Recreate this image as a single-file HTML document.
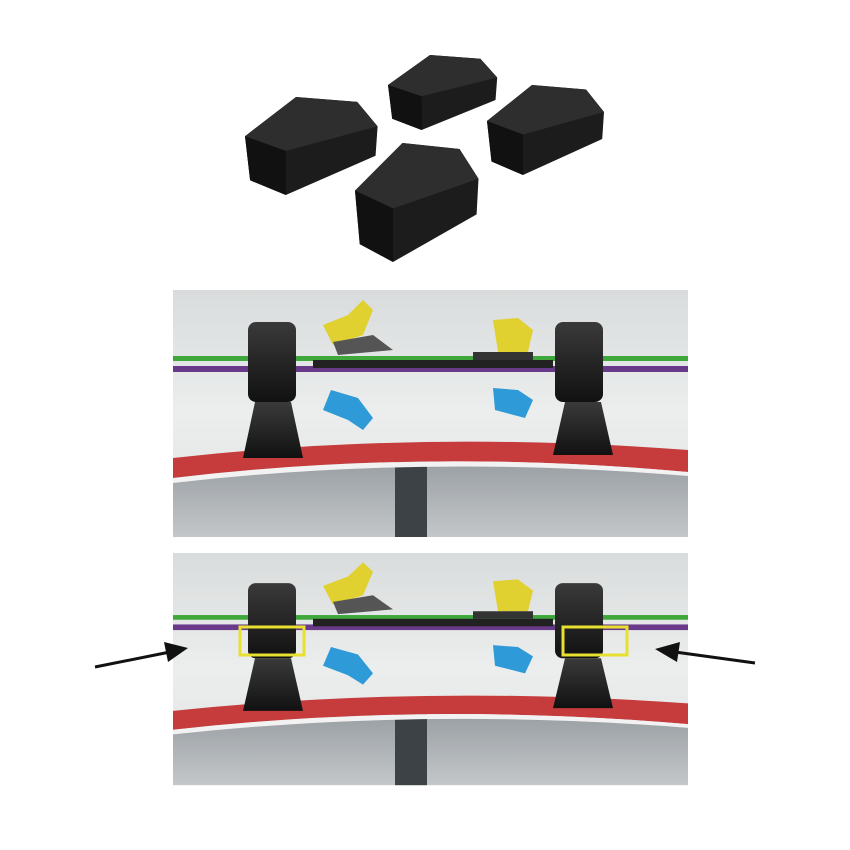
<!DOCTYPE html>
<html><head><meta charset="utf-8"><style>
html,body{margin:0;padding:0;background:#fff;width:850px;height:850px;overflow:hidden}
</style></head><body>
<svg width="850" height="850" viewBox="0 0 850 850" xmlns="http://www.w3.org/2000/svg">
<defs>
<linearGradient id="bg" x1="0" y1="0" x2="0" y2="1">
<stop offset="0" stop-color="#d9dcdc"/><stop offset="0.5" stop-color="#eceeee"/><stop offset="1" stop-color="#dfe2e2"/>
</linearGradient>
<linearGradient id="win" x1="0" y1="0" x2="0" y2="1">
<stop offset="0" stop-color="#9a9fa3"/><stop offset="1" stop-color="#c3c7ca"/>
</linearGradient>
<linearGradient id="blk" x1="0" y1="0" x2="0" y2="1">
<stop offset="0" stop-color="#3a3a3a"/><stop offset="1" stop-color="#111"/>
</linearGradient>
<g id="panel">
<rect x="0" y="0" width="515" height="247" fill="url(#bg)"/>
<path d="M0 185 Q250 160 515 182 L515 247 L0 247 Z" fill="url(#win)"/>
<rect x="222" y="168" width="32" height="79" fill="#3d4246"/>
<path d="M0 168 Q250 140 515 160 L515 182 Q250 158 0 188 Z" fill="#c63c3c"/>
<path d="M0 188 Q250 158 515 182 L515 186 Q250 164 0 193 Z" fill="#f2f2f2"/>
<rect x="0" y="66" width="515" height="5" fill="#3fa83c"/>
<rect x="0" y="76" width="515" height="6" fill="#6a3a8a"/>
<rect x="140" y="70" width="240" height="8" fill="#222"/>
<path d="M150 35 L175 25 L190 10 L200 20 L190 45 L160 55 Z" fill="#e0d030"/>
<path d="M160 52 L200 45 L220 60 L165 65 Z" fill="#555"/>
<path d="M150 120 L175 130 L190 140 L200 128 L185 108 L158 100 Z" fill="#2e9ad8"/>
<path d="M320 30 L345 28 L360 40 L355 62 L325 62 Z" fill="#e0d030"/>
<path d="M320 98 L345 100 L360 110 L352 128 L322 120 Z" fill="#2e9ad8"/>
<path d="M300 62 L360 62 L360 70 L300 70 Z" fill="#333"/>
<g fill="url(#blk)">
<rect x="75" y="32" width="48" height="80" rx="8"/>
<path d="M70 168 L82 112 L118 112 L130 168 Z"/>
<rect x="382" y="32" width="48" height="80" rx="8"/>
<path d="M380 165 L392 112 L428 112 L440 165 Z"/>
</g>
</g>
<g id="block">
<path d="M0 40 L50 0 L110 5 L130 30 L128 60 L40 100 L5 85 Z" fill="#1c1c1c"/>
<path d="M0 40 L50 0 L110 5 L130 30 L40 55 Z" fill="#2e2e2e"/>
<path d="M0 40 L40 55 L40 100 L5 85 Z" fill="#111"/>
</g>
</defs>
<g transform="translate(245 97) scale(1.02 0.98)"><use href="#block"/></g>
<g transform="translate(388 55) scale(0.84 0.75)"><use href="#block"/></g>
<g transform="translate(487 85) scale(0.9 0.9)"><use href="#block"/></g>
<g transform="translate(355 143) scale(0.95 1.19)"><use href="#block"/></g>
<g transform="translate(173 290)"><use href="#panel"/></g>
<g transform="translate(173 553) scale(1 0.94)"><use href="#panel"/></g>
<g fill="none" stroke="#e8e030" stroke-width="3">
<rect x="240" y="627" width="64" height="28"/>
<rect x="563" y="627" width="64" height="28"/>
</g>
<g stroke="#111" stroke-width="3" fill="#111">
<line x1="95" y1="667" x2="170" y2="652"/>
<polygon points="188,648 164,642 168,662" stroke="none"/>
<line x1="755" y1="663" x2="675" y2="652"/>
<polygon points="655,649 680,642 677,662" stroke="none"/>
</g>
</svg>
</body></html>
